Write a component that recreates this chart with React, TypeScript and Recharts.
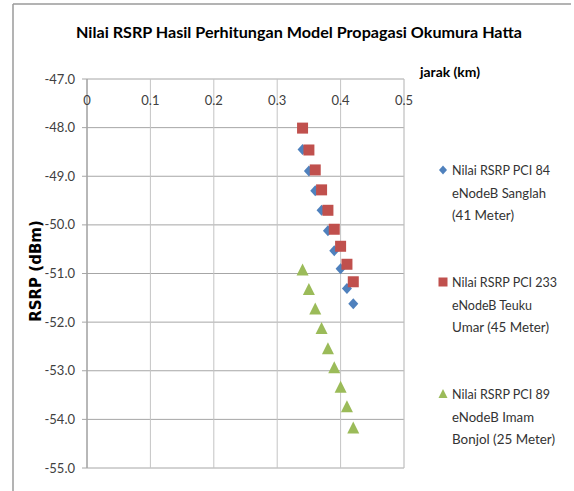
import { ScatterChart, Scatter, XAxis, YAxis, CartesianGrid, ReferenceLine } from "recharts";

const jarak = [0.34, 0.35, 0.36, 0.37, 0.38, 0.39, 0.4, 0.41, 0.42];
const rsrpPci84 = [-48.45, -48.89, -49.3, -49.7, -50.12, -50.53, -50.9, -51.31, -51.62];
const rsrpPci233 = [-48.01, -48.46, -48.87, -49.28, -49.7, -50.09, -50.44, -50.81, -51.17];
const rsrpPci89 = [-50.94, -51.34, -51.74, -52.14, -52.56, -52.95, -53.35, -53.75, -54.19];

const xGridTicks = [
  0, 0.02, 0.04, 0.06, 0.08, 0.1, 0.12, 0.14, 0.16, 0.18, 0.2, 0.22, 0.24,
  0.26, 0.28, 0.3, 0.32, 0.34, 0.36, 0.38, 0.4, 0.42, 0.44, 0.46, 0.48, 0.5,
];
const xLabelTicks = [0, 0.1, 0.2, 0.3, 0.4, 0.5];
const yTicks = [-55, -54, -53, -52, -51, -50, -49, -48, -47];

const seriesNames = [
  ["Nilai RSRP PCI 84", "eNodeB Sanglah", "(41 Meter)"],
  ["Nilai RSRP PCI 233", "eNodeB Teuku", "Umar (45 Meter)"],
  ["Nilai RSRP PCI 89", "eNodeB Imam", "Bonjol (25 Meter)"],
];

const BLUE = "#4f81bd";
const RED = "#c0504d";
const GREEN = "#9bbb59";

const toPoints = (ys: number[]) => jarak.map((x, i) => ({ x, y: ys[i] }));

const Diamond = ({ cx, cy }: any) => (
  <path d={`M${cx},${cy - 5.5} L${cx + 5},${cy} L${cx},${cy + 5.5} L${cx - 5},${cy} Z`} fill={BLUE} />
);
const Square = ({ cx, cy }: any) => (
  <rect x={cx - 5.5} y={cy - 5.5} width={11} height={11} fill={RED} />
);
const Triangle = ({ cx, cy }: any) => (
  <path d={`M${cx},${cy - 7} L${cx + 6},${cy + 5} L${cx - 6},${cy + 5} Z`} fill={GREEN} />
);

const legendMarkers = [
  (cx: number, cy: number) => (
    <path d={`M${cx},${cy - 4.5} L${cx + 4},${cy} L${cx},${cy + 4.5} L${cx - 4},${cy} Z`} fill={BLUE} />
  ),
  (cx: number, cy: number) => <rect x={cx - 4.5} y={cy - 4.5} width={9} height={9} fill={RED} />,
  (cx: number, cy: number) => (
    <path d={`M${cx},${cy - 5} L${cx + 4.5},${cy + 4} L${cx - 4.5},${cy + 4} Z`} fill={GREEN} />
  ),
];
const legendWidths = [
  [98, 94, 62],
  [105, 80, 97],
  [98, 82, 103],
];

export default function App() {
  return (
    <div style={{ position: "relative", width: 574, height: 491, background: "#fff", fontFamily: "Lato" }}>
      <style>{`body{margin:0}`}</style>
      <ScatterChart width={574} height={491} margin={{ top: 79, right: 170, bottom: 23, left: 27 }}>
        <CartesianGrid horizontal={false} vertical stroke="#d9d9d9" />
        <CartesianGrid horizontal vertical={false} stroke="#a6a6a6" />
        {xLabelTicks.map((v) => (
          <ReferenceLine
            key={v}
            x={v}
            stroke={v === 0 ? "#a6a6a6" : "#c4c4c4"}
            label={{
              value: String(v),
              position: "insideTop",
              offset: 17,
              fill: "#404040",
              fontSize: 13,
              fontFamily: "Lato",
            }}
          />
        ))}
        <XAxis
          type="number"
          dataKey="x"
          orientation="top"
          domain={[0, 0.5]}
          ticks={xGridTicks}
          interval={0}
          height={0}
          tickLine={false}
          tick={false}
          axisLine={{ stroke: "#a6a6a6" }}
        />
        <YAxis
          type="number"
          dataKey="y"
          domain={[-55, -47]}
          ticks={yTicks}
          interval={0}
          width={60}
          tickSize={5}
          tickMargin={7}
          tickLine={{ stroke: "#a6a6a6" }}
          axisLine={{ stroke: "#a6a6a6" }}
          tickFormatter={(v: number) => v.toFixed(1)}
          tick={{ fill: "#404040", fontSize: 13, fontFamily: "Lato" }}
        />
        <Scatter data={toPoints(rsrpPci84)} shape={<Diamond />} isAnimationActive={false} />
        <Scatter data={toPoints(rsrpPci233)} shape={<Square />} isAnimationActive={false} />
        <Scatter data={toPoints(rsrpPci89)} shape={<Triangle />} isAnimationActive={false} />
      </ScatterChart>
      <svg
        width={574}
        height={491}
        style={{ position: "absolute", left: 0, top: 0, pointerEvents: "none" }}
      >
        <line x1={13} y1={4} x2={571} y2={4} stroke="#9a9a9a" strokeWidth={1.5} />
        <line x1={13} y1={4} x2={13} y2={491} stroke="#9a9a9a" strokeWidth={1.5} />
        <text
          x={76}
          y={38}
          fontFamily="Lato"
          fontWeight="bold"
          fontSize={16}
          fill="#000"
          textLength={446}
          lengthAdjust="spacingAndGlyphs"
        >
          Nilai RSRP Hasil Perhitungan Model Propagasi Okumura Hatta
        </text>
        <text
          x={420}
          y={77}
          fontFamily="Lato"
          fontWeight="bold"
          fontSize={13}
          fill="#000"
          textLength={60}
          lengthAdjust="spacingAndGlyphs"
        >
          jarak (km)
        </text>
        <text
          transform="translate(41,271) rotate(-90)"
          textAnchor="middle"
          fontFamily="DejaVu Sans"
          fontWeight="bold"
          fontSize={15}
          fill="#000"
        >
          RSRP (dBm)
        </text>
        {seriesNames.map((lines, s) => (
          <g key={s}>
            {legendMarkers[s](443, 170 + s * 112)}
            {lines.map((t, j) => (
              <text
                key={j}
                x={452}
                y={170 + s * 112 + j * 22.5 + 5}
                fontFamily="Lato"
                fontSize={14}
                fill="#333"
                textLength={legendWidths[s][j]}
                lengthAdjust="spacingAndGlyphs"
              >
                {t}
              </text>
            ))}
          </g>
        ))}
      </svg>
    </div>
  );
}
